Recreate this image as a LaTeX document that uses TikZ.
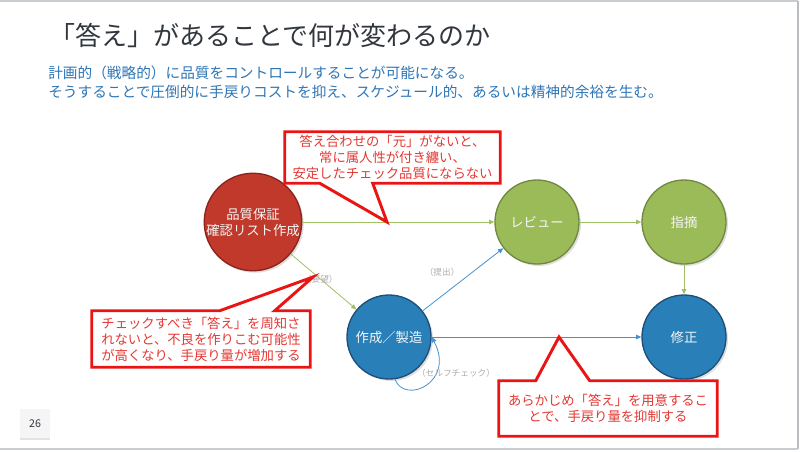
\documentclass[tikz,border=0pt]{standalone}
\usepackage{fontspec}
\setmainfont{Noto Sans CJK JP}
\usepackage{tikz}
\usetikzlibrary{arrows.meta,calc,shadows}
\definecolor{titlegray}{RGB}{50,55,62}
\definecolor{leadblue}{RGB}{46,117,182}
\definecolor{qared}{RGB}{192,57,43}
\definecolor{qaredline}{RGB}{140,35,28}
\definecolor{revgreen}{RGB}{155,187,89}
\definecolor{revgreenline}{RGB}{113,137,63}
\definecolor{workblue}{RGB}{41,128,185}
\definecolor{workblueline}{RGB}{30,78,121}
\definecolor{flowgreen}{RGB}{160,192,100}
\definecolor{flowblue}{RGB}{70,145,205}
\definecolor{calloutred}{RGB}{235,20,20}
\definecolor{callouttextred}{RGB}{228,55,50}
\definecolor{framegray}{RGB}{200,205,210}
\tikzset{
    state/.style={
        circle,
        draw,
        line width=1pt,
        minimum size=63pt,
        inner sep=0pt,
        align=center,
        text=white!92!gray,
        font=\fontsize{10}{12}\selectfont,
        drop shadow={shadow xshift=1.5pt, shadow yshift=-1.5pt, opacity=0.25}
    },
    qastate/.style={state, fill=qared, draw=qaredline, minimum size=64.5pt},
    revstate/.style={state, fill=revgreen, draw=revgreenline},
    workstate/.style={state, fill=workblue, draw=workblueline},
    gflow/.style={
        -{Triangle[length=4pt,width=3.5pt]},
        draw=flowgreen,
        line width=0.6pt
    },
    bflow/.style={
        -{Triangle[length=4pt,width=3.5pt]},
        draw=flowblue,
        line width=0.6pt
    },
    flowlabel/.style={font=\fontsize{6.5}{8}\selectfont, text=gray!65},
    callout/.style={draw=calloutred, line width=2.2pt, line join=miter},
    callouttext/.style={
        rectangle,
        inner sep=0pt,
        align=center,
        text=callouttextred,
        font=\fontsize{10}{12}\selectfont
    }
}

\begin{document}
\begin{tikzpicture}[x=0.75pt,y=-0.75pt]
\useasboundingbox (0,0) rectangle (800,451);

% slide frame
\draw[framegray, line width=1pt] (0,1) -- (798,1);
\draw[framegray!80!gray, line width=1.5pt] (798,1) -- (798,449);
\draw[framegray, line width=1pt] (0,449) -- (798,449);

% title and lead
\node[anchor=west, inner sep=0pt, text=titlegray, font=\fontsize{19.5}{22}\selectfont] (title) at (49,35) {「答え」があることで何が変わるのか};
\node[anchor=west, inner sep=0pt, text=leadblue, font=\fontsize{11}{13}\selectfont] (lead1) at (48,73) {計画的（戦略的）に品質をコントロールすることが可能になる。};
\node[anchor=west, inner sep=0pt, text=leadblue, font=\fontsize{11}{13}\selectfont] (lead2) at (48,92) {そうすることで圧倒的に手戻りコストを抑え、スケジュール的、あるいは精神的余裕を生む。};

% states
\node[qastate] (qa) at (253,222) {品質保証\\確認リスト作成};
\node[revstate] (review) at (537,222) {レビュー};
\node[revstate] (point) at (684,222) {指摘};
\node[workstate] (make) at (389,337) {作成／製造};
\node[workstate] (fix) at (684,337) {修正};

% flows
\draw[gflow] (qa) -- (review);
\draw[gflow] (qa) -- (make) node[pos=0.45, flowlabel] (req) {（要望）};
\draw[bflow] (make) -- (review) node[pos=0.5, flowlabel, above left=-1pt] (submit) {（提出）};
\draw[gflow] (review) -- (point);
\draw[gflow] (point) -- (fix);
\draw[bflow] (make) -- (fix);
\draw[bflow] (make.-82) .. controls +(10,26) and +(24,45) .. (make.east);
\node[flowlabel] (self) at (456,373) {（セルフチェック）};

% callouts
\coordinate (tip-top) at (387,222);
\node[callouttext, minimum width=161.25pt, minimum height=38.25pt] (call-top) at (392.5,157.5) {答え合わせの「元」がないと、\\常に属人性が付き纏い、\\安定したチェック品質にならない};
\draw[callout] (call-top.north west) -- (call-top.north east) -- (call-top.south east)
    -- ($(call-top.south west)+(88,0)$) -- (tip-top) -- ($(call-top.south west)+(35,0)$)
    -- (call-top.south west) -- cycle;

\coordinate (tip-left) at (313,277);
\node[callouttext, minimum width=163.5pt, minimum height=42pt] (call-left) at (201,339) {チェックすべき「答え」を周知さ\\れないと、不良を作りこむ可能性\\が高くなり、手戻り量が増加する};
\draw[callout] (call-left.south west) -- (call-left.south east) -- (call-left.north east)
    -- ($(call-left.north west)+(183,0)$) -- (tip-left) -- ($(call-left.north west)+(128,0)$)
    -- (call-left.north west) -- cycle;

\coordinate (tip-bottom) at (559,337);
\node[callouttext, minimum width=163.5pt, minimum height=41.25pt] (call-bottom) at (608,408.5) {あらかじめ「答え」を用意するこ\\とで、手戻り量を抑制する};
\draw[callout] (call-bottom.south west) -- (call-bottom.south east) -- (call-bottom.north east)
    -- ($(call-bottom.north west)+(91,0)$) -- (tip-bottom) -- ($(call-bottom.north west)+(37,0)$)
    -- (call-bottom.north west) -- cycle;

% page number
\node[fill=gray!8, minimum size=22.5pt, inner sep=0pt, text=titlegray, font=\fontsize{8}{9}\selectfont] (page) at (35,424) {26};
\draw[gray!22, line width=1.5pt] (page.south west) -- (page.south east);
\end{tikzpicture}
\end{document}
